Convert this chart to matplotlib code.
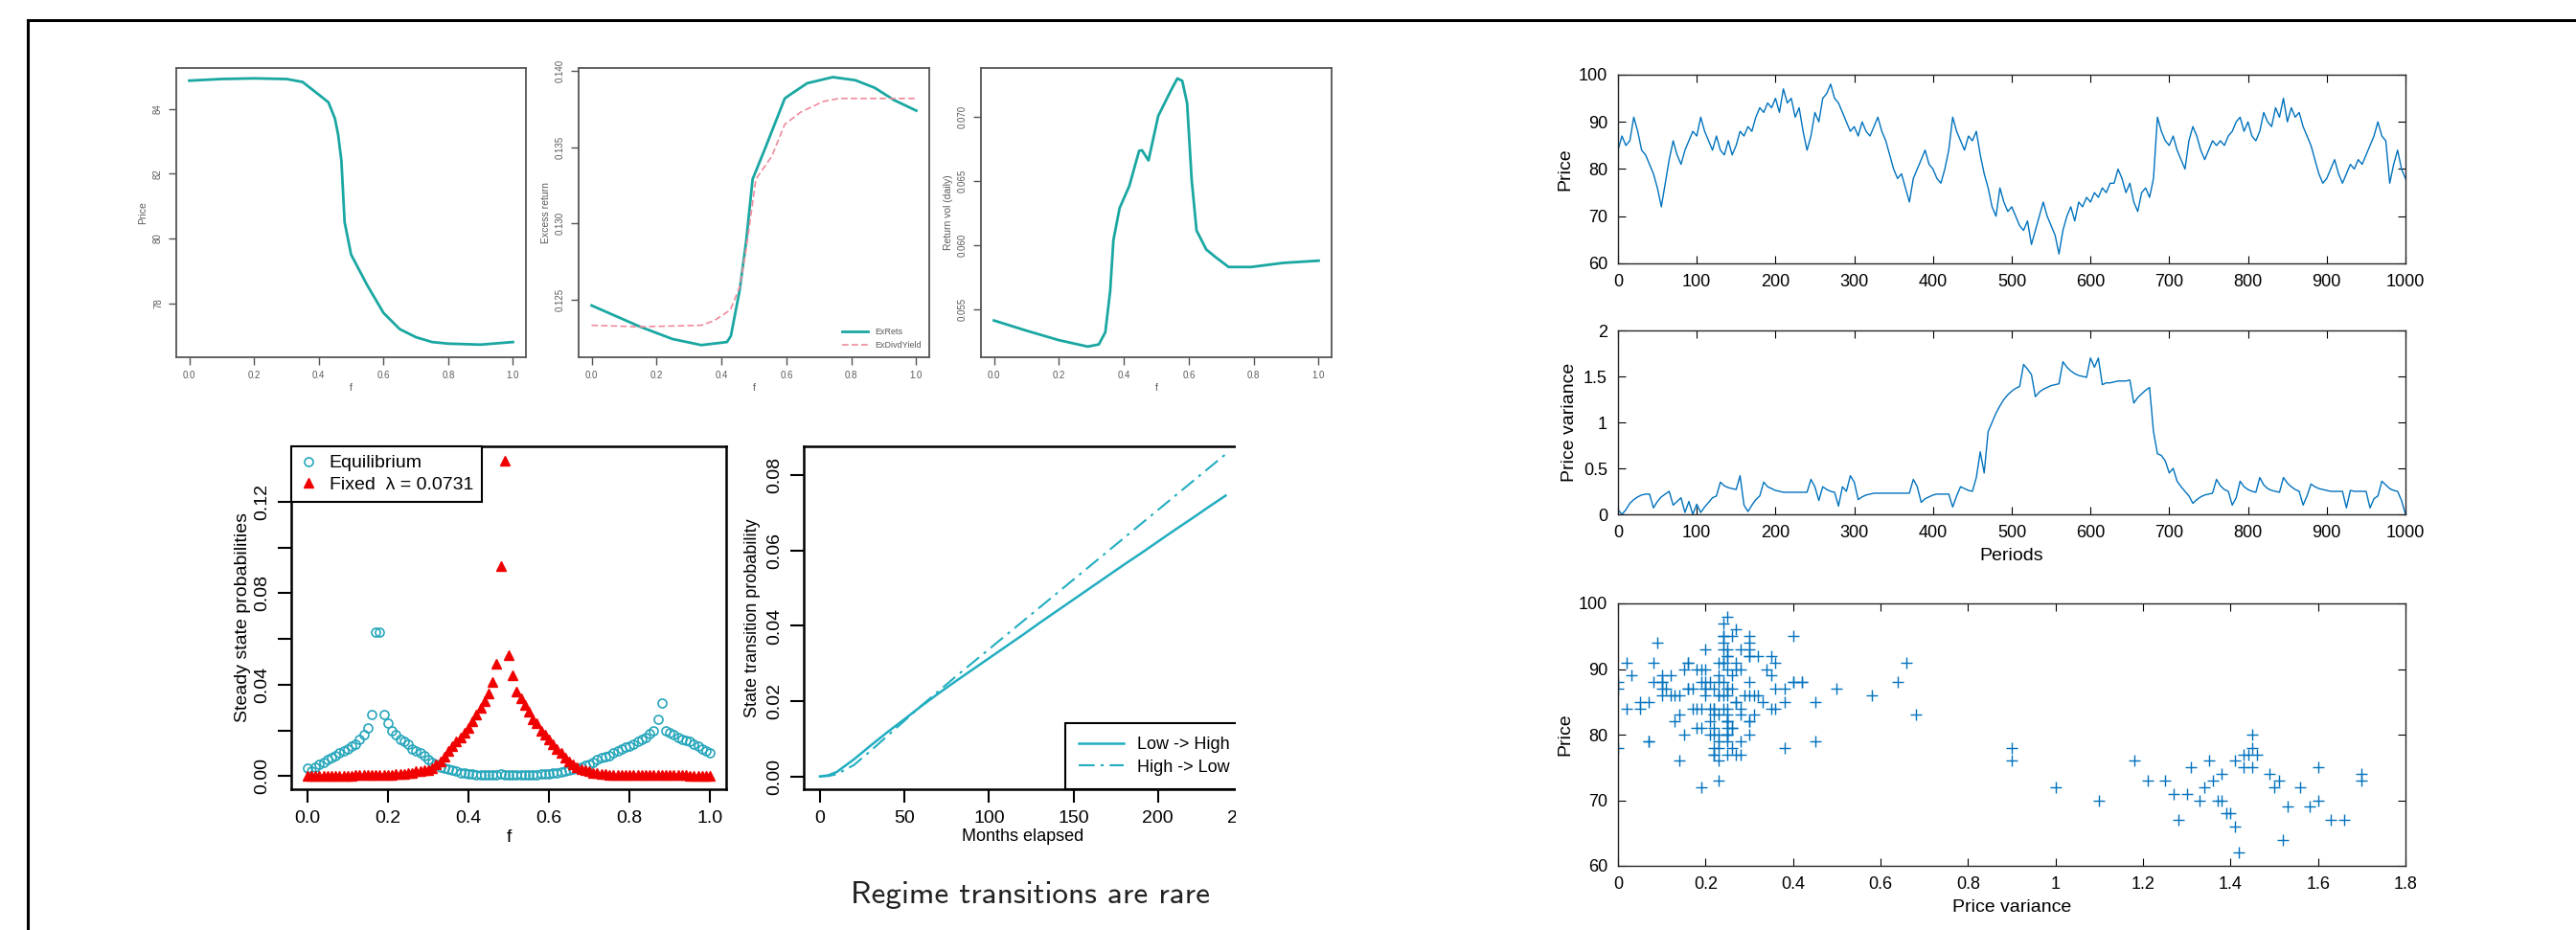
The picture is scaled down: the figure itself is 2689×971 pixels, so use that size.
import numpy as np
import matplotlib
matplotlib.use("Agg")
import matplotlib.pyplot as plt
from matplotlib.lines import Line2D
from matplotlib.patches import Rectangle

W, H = 2689, 971

# ---------------- data ----------------
# top row (f on the x axis)
price_f = [0.00, 0.10, 0.20, 0.30, 0.35, 0.40, 0.43, 0.45, 0.46, 0.47, 0.48,
           0.50, 0.55, 0.60, 0.65, 0.70, 0.75, 0.80, 0.90, 1.00]
price_v = [84.87, 84.92, 84.94, 84.92, 84.83, 84.44, 84.2, 83.7, 83.2, 82.4,
           80.5, 79.5, 78.55, 77.7, 77.2, 76.95, 76.8, 76.75, 76.72, 76.8]

exret_f = [0.0, 0.15, 0.249, 0.338, 0.417, 0.429, 0.456, 0.476, 0.496, 0.536,
           0.595, 0.615, 0.664, 0.743, 0.812, 0.872, 0.931, 1.0]
exret_v = [0.1246, 0.1232, 0.1224, 0.1220, 0.1222, 0.1226, 0.1256, 0.1288,
           0.1329, 0.1350, 0.1382, 0.1385, 0.1392, 0.1396, 0.1394, 0.1389,
           0.1381, 0.1374]
exdy_f = [0.0, 0.15, 0.338, 0.377, 0.427, 0.456, 0.476, 0.506, 0.555, 0.595,
          0.644, 0.713, 0.763, 1.0]
exdy_v = [0.1233, 0.1232, 0.1233, 0.1236, 0.1243, 0.1258, 0.1283, 0.1329,
          0.1344, 0.1365, 0.1373, 0.1380, 0.1382, 0.1382]

vol_f = [0.0, 0.1, 0.2, 0.289, 0.323, 0.343, 0.358, 0.368, 0.387, 0.417,
         0.447, 0.456, 0.476, 0.506, 0.545, 0.565, 0.580, 0.595, 0.609,
         0.624, 0.654, 0.684, 0.723, 0.792, 0.891, 1.0]
vol_v = [0.05416, 0.05337, 0.05263, 0.05213, 0.0523, 0.05324, 0.05646,
         0.06042, 0.0629, 0.06463, 0.06735, 0.0674, 0.06661, 0.07007,
         0.07205, 0.07299, 0.0728, 0.07106, 0.06512, 0.06116, 0.05968,
         0.05906, 0.05832, 0.05832, 0.05864, 0.05881]

# steady state probabilities, f = 0.00 ... 1.00
ss_f = np.round(np.arange(0, 101) / 100, 2)
ss_equil = [0.0035, 0.002, 0.004, 0.005, 0.006, 0.007, 0.008, 0.009, 0.010, 0.011,
            0.012, 0.013, 0.014, 0.016, 0.018, 0.021, 0.027, 0.063, 0.063, 0.027,
            0.023, 0.020, 0.018, 0.016, 0.015, 0.014, 0.012, 0.011, 0.010, 0.009,
            0.007, 0.006, 0.005, 0.004, 0.0035, 0.003, 0.0025, 0.002, 0.0015, 0.0012,
            0.001, 0.0008, 0.0007, 0.0006, 0.0005, 0.0005, 0.0005, 0.0005, 0.0008, 0.0006,
            0.0005, 0.0005, 0.0005, 0.0005, 0.0005, 0.0006, 0.0006, 0.0007, 0.0008, 0.0009,
            0.001, 0.0012, 0.0015, 0.0018, 0.002, 0.0025, 0.003, 0.0035, 0.004, 0.0045,
            0.005, 0.006, 0.007, 0.008, 0.0085, 0.009, 0.010, 0.011, 0.012, 0.0125,
            0.013, 0.014, 0.015, 0.016, 0.017, 0.0185, 0.020, 0.025, 0.032, 0.020,
            0.019, 0.018, 0.017, 0.016, 0.0155, 0.015, 0.014, 0.013, 0.012, 0.011,
            0.010]
ss_fixed = [0.0002, 0.0002, 0.0002, 0.0002, 0.0002, 0.0002, 0.0002, 0.0002, 0.0002, 0.0002,
            0.0002, 0.0002, 0.0003, 0.0003, 0.0003, 0.0004, 0.0004, 0.0005, 0.0005, 0.0006,
            0.0006, 0.0007, 0.0008, 0.0009, 0.001, 0.0012, 0.0015, 0.002, 0.0022, 0.0024,
            0.0025, 0.0035, 0.005, 0.0065, 0.0086, 0.011, 0.013, 0.015, 0.017, 0.019,
            0.021, 0.024, 0.027, 0.030, 0.033, 0.036, 0.041, 0.049, 0.092, 0.138,
            0.053, 0.044, 0.037, 0.034, 0.031, 0.028, 0.025, 0.023, 0.020, 0.018,
            0.016, 0.014, 0.012, 0.010, 0.008, 0.0065, 0.005, 0.004, 0.003, 0.0025,
            0.002, 0.0015, 0.0012, 0.001, 0.0008, 0.0007, 0.0006, 0.0005, 0.0004, 0.0004,
            0.0003, 0.0003, 0.0003, 0.0003, 0.0003, 0.0003, 0.0003, 0.0003, 0.0003, 0.0003,
            0.0003, 0.0003, 0.0003, 0.0003, 0.0003, 0.0002, 0.0002, 0.0002, 0.0002, 0.0002,
            0.0002]

# state transition probability vs months elapsed
months = [0, 5, 10, 20, 30, 40, 50, 60, 70, 80, 90, 100, 110, 120, 130, 140,
          150, 160, 170, 180, 190, 200, 210, 220, 230, 240]
low_high = [0, 0.0003, 0.0012, 0.0045, 0.0082, 0.0118, 0.0152, 0.0187, 0.022,
            0.0252, 0.0283, 0.0314, 0.0345, 0.0376, 0.0408, 0.0439, 0.047,
            0.0501, 0.0532, 0.0563, 0.0593, 0.0624, 0.0655, 0.0685, 0.0716,
            0.0746]
high_low = [0, 0.0001, 0.0006, 0.0030, 0.0068, 0.0108, 0.0148, 0.0188, 0.0226,
            0.0264, 0.0301, 0.0338, 0.0375, 0.0412, 0.0449, 0.0486, 0.0523,
            0.056, 0.0597, 0.0634, 0.0671, 0.0708, 0.0745, 0.0782, 0.0819,
            0.0856]

# simulated price and price variance, every 5th period
periods = list(range(0, 1001, 5))
price = [84, 87, 85, 86, 91, 88, 84, 83, 81, 79, 76, 72, 77, 82, 86, 83, 81, 84,
         86, 88, 87, 91, 88, 86, 84, 87, 84, 83, 86, 83, 85, 88, 87, 89, 88, 91,
         93, 92, 94, 93, 95, 92, 97, 94, 95, 91, 93, 88, 84, 87, 92, 90, 95, 96,
         98, 95, 94, 92, 90, 88, 89, 87, 90, 88, 87, 89, 91, 88, 86, 83, 80, 78,
         79, 76, 73, 78, 80, 82, 84, 81, 80, 78, 77, 80, 84, 91, 88, 86, 84, 87,
         86, 88, 83, 79, 76, 72, 70, 76, 73, 71, 72, 70, 68, 67, 69, 64, 67, 70,
         73, 70, 68, 66, 62, 67, 70, 72, 69, 73, 72, 74, 73, 75, 74, 76, 75, 77,
         77, 80, 78, 75, 77, 73, 71, 75, 76, 74, 78, 91, 88, 86, 85, 87, 84, 82,
         80, 86, 89, 87, 84, 82, 84, 86, 85, 86, 85, 87, 88, 90, 91, 88, 90, 87,
         86, 88, 92, 90, 89, 93, 91, 95, 90, 93, 91, 92, 89, 87, 85, 82, 79, 77,
         78, 80, 82, 79, 77, 79, 81, 80, 82, 81, 83, 85, 87, 90, 87, 86, 77, 81,
         84, 80, 78]
variance = [0.05, 0.0, 0.05, 0.12, 0.16, 0.19, 0.21, 0.22, 0.22, 0.07, 0.14, 0.19,
            0.22, 0.25, 0.10, 0.14, 0.18, 0.02, 0.14, 0.0, 0.11, 0.02, 0.08, 0.13,
            0.18, 0.20, 0.35, 0.31, 0.29, 0.28, 0.27, 0.42, 0.10, 0.03, 0.10, 0.16,
            0.20, 0.35, 0.30, 0.28, 0.26, 0.25, 0.24, 0.24, 0.24, 0.24, 0.24, 0.24,
            0.24, 0.38, 0.30, 0.15, 0.30, 0.27, 0.25, 0.24, 0.09, 0.30, 0.25, 0.42,
            0.35, 0.16, 0.19, 0.21, 0.22, 0.23, 0.23, 0.23, 0.23, 0.23, 0.23, 0.23,
            0.23, 0.23, 0.23, 0.38, 0.30, 0.13, 0.17, 0.19, 0.21, 0.22, 0.22, 0.22,
            0.22, 0.08, 0.20, 0.30, 0.28, 0.26, 0.25, 0.40, 0.68, 0.45, 0.90, 1.00,
            1.10, 1.18, 1.25, 1.30, 1.34, 1.37, 1.39, 1.63, 1.58, 1.52, 1.28, 1.33,
            1.36, 1.38, 1.40, 1.41, 1.42, 1.66, 1.60, 1.56, 1.53, 1.51, 1.50, 1.49,
            1.70, 1.60, 1.70, 1.41, 1.43, 1.43, 1.44, 1.45, 1.45, 1.45, 1.46, 1.21,
            1.27, 1.31, 1.35, 1.38, 0.90, 0.66, 0.64, 0.58, 0.45, 0.50, 0.36, 0.30,
            0.25, 0.20, 0.12, 0.16, 0.19, 0.21, 0.22, 0.23, 0.38, 0.31, 0.27, 0.25,
            0.10, 0.18, 0.36, 0.30, 0.27, 0.25, 0.24, 0.40, 0.32, 0.28, 0.26, 0.25,
            0.24, 0.40, 0.34, 0.30, 0.27, 0.25, 0.10, 0.20, 0.33, 0.30, 0.28, 0.27,
            0.26, 0.25, 0.25, 0.25, 0.25, 0.07, 0.26, 0.25, 0.25, 0.25, 0.25, 0.07,
            0.17, 0.20, 0.36, 0.32, 0.28, 0.26, 0.25, 0.15, 0.0]

# ---------------- styling ----------------
TEAL = "#1aa7a2"
PINK = "#f08a9c"
CYAN = "#26a6bb"
RED = "#f00000"
LINE_T = "#22aec0"
MBLUE = "#0072BD"
GREYTXT = "#5a5a5a"
RFONT = ["Liberation Sans", "DejaVu Sans"]
MFONT = ["Liberation Sans Narrow", "Liberation Sans", "DejaVu Sans"]


def box(l, t, r, b):
    return [l / W, 1 - b / H, (r - l) / W, (b - t) / H]


fig = plt.figure(figsize=(W / 100, H / 100), dpi=100)

# outer slide frame (runs off the right and bottom)
fig.add_artist(Line2D([29 / W, 1.0], [1 - 21 / H, 1 - 21 / H], color="black",
                      lw=2.2, transform=fig.transFigure))
fig.add_artist(Line2D([29 / W, 29 / W], [1 - 21 / H, 0.0], color="black",
                      lw=2.2, transform=fig.transFigure))


def small_r_axes(pos, ylim, yticks, yticklabels, ylabel):
    ax = fig.add_axes(pos)
    ax.set_xlim(-0.04, 1.04)
    ax.set_ylim(*ylim)
    ax.set_xticks([0, 0.2, 0.4, 0.6, 0.8, 1.0])
    ax.set_xticklabels(["0.0", "0.2", "0.4", "0.6", "0.8", "1.0"])
    ax.set_yticks(yticks)
    ax.set_yticklabels(yticklabels, rotation=90, va="center")
    for s in ax.spines.values():
        s.set_color("#555555")
        s.set_linewidth(1.3)
    ax.tick_params(direction="out", length=6, width=1.0, color="#555555",
                   labelsize=7, labelcolor=GREYTXT, pad=4)
    for lab in ax.get_xticklabels() + ax.get_yticklabels():
        lab.set_family(RFONT)
    ax.set_xlabel("f", fontsize=7.5, color=GREYTXT, family=RFONT, labelpad=2)
    ax.set_ylabel(ylabel, fontsize=7.5, color=GREYTXT, family=RFONT,
                  labelpad=4)
    return ax


# ---- top row --------------------------------------------------------------
ax = small_r_axes(box(184, 71, 549, 373), (76.33, 85.26), [78, 80, 82, 84],
                  ["78", "80", "82", "84"], "Price")
ax.plot(price_f, price_v, color=TEAL, lw=2.0)

ax = small_r_axes(box(604, 71, 970, 373), (0.1212, 0.1402),
                  [0.125, 0.130, 0.135, 0.140],
                  ["0.125", "0.130", "0.135", "0.140"], "Excess return")
ax.plot(exret_f, exret_v, color=TEAL, lw=2.0, label="ExRets")
ax.plot(exdy_f, exdy_v, color=PINK, lw=1.2, ls=(0, (4, 2)),
        label="ExDivdYield")
ax.legend(loc="lower right", frameon=False, handlelength=3,
          labelcolor=GREYTXT, prop={"family": RFONT, "size": 6.5})

ax = small_r_axes(box(1024, 71, 1390, 373), (0.0513, 0.0738),
                  [0.055, 0.060, 0.065, 0.070],
                  ["0.055", "0.060", "0.065", "0.070"], "Return vol (daily)")
ax.plot(vol_f, vol_v, color=TEAL, lw=2.0)

# ---- bottom left: steady state probabilities ------------------------------
ax = fig.add_axes(box(304, 466, 758, 824))
ax.plot(ss_f, ss_equil, ls="none", marker="o", ms=6.5, mfc="none",
        mec=CYAN, mew=1.2, label="Equilibrium")
ax.plot(ss_f, ss_fixed, ls="none", marker="^", ms=6.5, color=RED,
        label="Fixed  \u03bb = 0.0731")
ax.set_xlim(-0.04, 1.04)
ax.set_ylim(-0.0058, 0.1444)
ax.set_xticks([0, 0.2, 0.4, 0.6, 0.8, 1.0])
ax.set_xticklabels(["0.0", "0.2", "0.4", "0.6", "0.8", "1.0"])
ax.set_yticks([0, 0.02, 0.04, 0.06, 0.08, 0.10, 0.12])
ax.set_yticklabels(["0.00", "", "0.04", "", "0.08", "", "0.12"], rotation=90,
                   va="center")
for s in ax.spines.values():
    s.set_linewidth(1.8)
ax.tick_params(direction="out", length=10, width=1.5, labelsize=14, pad=6)
for lab in ax.get_xticklabels() + ax.get_yticklabels():
    lab.set_family(RFONT)
ax.set_xlabel("f", fontsize=14, family=RFONT, labelpad=2)
ax.set_ylabel("Steady state probabilities", fontsize=14, family=RFONT,
              labelpad=2)
leg = ax.legend(loc="upper left", borderaxespad=0, fancybox=False,
                edgecolor="black", framealpha=1, handletextpad=0.6,
                prop={"family": RFONT, "size": 14}, borderpad=0.45,
                labelspacing=0.25, handlelength=1.0)
leg.get_frame().set_linewidth(1.5)

# ---- bottom middle: state transition probability --------------------------
ax = fig.add_axes(box(839, 466, 1297, 824))
ax.plot(months, low_high, color=LINE_T, lw=1.8, label="Low -> High")
ax.plot(months, high_low, color=LINE_T, lw=1.5, ls=(0, (8, 3, 1.5, 3)),
        label="High -> Low")
ax.set_xlim(-9.6, 249.6)
ax.set_ylim(-0.0034, 0.0877)
ax.set_xticks([0, 50, 100, 150, 200, 250])
ax.set_yticks([0, 0.02, 0.04, 0.06, 0.08])
ax.set_yticklabels(["0.00", "0.02", "0.04", "0.06", "0.08"], rotation=90,
                   va="center")
for s in ax.spines.values():
    s.set_linewidth(1.8)
ax.tick_params(direction="out", length=10, width=1.5, labelsize=14, pad=6)
for lab in ax.get_xticklabels() + ax.get_yticklabels():
    lab.set_family(RFONT)
ax.set_xlabel("Months elapsed", fontsize=13, family=RFONT, labelpad=1)
ax.set_ylabel("State transition probability", fontsize=13, family=RFONT,
              labelpad=4)
leg = ax.legend(loc="lower left", bbox_to_anchor=(0.595, 0.0),
                borderaxespad=0, fancybox=False, edgecolor="black",
                framealpha=1, prop={"family": RFONT, "size": 13},
                handlelength=2.6, labelspacing=0.35, borderpad=0.8)
leg.get_frame().set_linewidth(1.5)

# the original slide crops this panel on the right
fig.add_artist(Rectangle((1290 / W, 1 - 880 / H), 30 / W, 440 / H,
                         transform=fig.transFigure, facecolor="white",
                         edgecolor="none", zorder=5))

fig.text(1075 / W, 1 - 934 / H, "Regime transitions are rare", ha="center",
         va="center", fontsize=24, family=["cmss10", "DejaVu Sans"],
         color="#222222")


# ---- right column: simulated market ---------------------------------------
def matlab_axes(pos):
    ax = fig.add_axes(pos)
    for s in ax.spines.values():
        s.set_linewidth(1.0)
        s.set_color("#262626")
    ax.tick_params(direction="in", top=True, right=True, length=6, width=0.8,
                   labelsize=13, pad=8)
    return ax


ax = matlab_axes(box(1689, 78, 2511, 275))
ax.plot(periods, price, color=MBLUE, lw=1.0)
ax.set_xlim(0, 1000)
ax.set_ylim(60, 100)
ax.set_xticks(range(0, 1001, 100))
ax.set_yticks(range(60, 101, 10))
ax.set_ylabel("Price", fontsize=14, family=MFONT)
for lab in ax.get_xticklabels() + ax.get_yticklabels():
    lab.set_family(MFONT)

ax = matlab_axes(box(1689, 345, 2511, 537))
ax.plot(periods, variance, color=MBLUE, lw=1.0)
ax.set_xlim(0, 1000)
ax.set_ylim(0, 2)
ax.set_xticks(range(0, 1001, 100))
ax.set_yticks([0, 0.5, 1, 1.5, 2])
ax.set_yticklabels(["0", "0.5", "1", "1.5", "2"])
ax.set_xlabel("Periods", fontsize=14, family=MFONT, labelpad=5)
ax.set_ylabel("Price variance", fontsize=14, family=MFONT)
for lab in ax.get_xticklabels() + ax.get_yticklabels():
    lab.set_family(MFONT)

ax = matlab_axes(box(1689, 630, 2511, 904))
ax.plot(variance, price, ls="none", marker="+", ms=8, mew=1.0, color=MBLUE)
ax.set_xlim(0, 1.8)
ax.set_ylim(60, 100)
ax.set_xticks([0, 0.2, 0.4, 0.6, 0.8, 1, 1.2, 1.4, 1.6, 1.8])
ax.set_xticklabels(["0", "0.2", "0.4", "0.6", "0.8", "1", "1.2", "1.4",
                    "1.6", "1.8"])
ax.set_yticks(range(60, 101, 10))
ax.set_xlabel("Price variance", fontsize=14, family=MFONT, labelpad=5)
ax.set_ylabel("Price", fontsize=14, family=MFONT)
for lab in ax.get_xticklabels() + ax.get_yticklabels():
    lab.set_family(MFONT)

fig.savefig("out.png", dpi=100)
